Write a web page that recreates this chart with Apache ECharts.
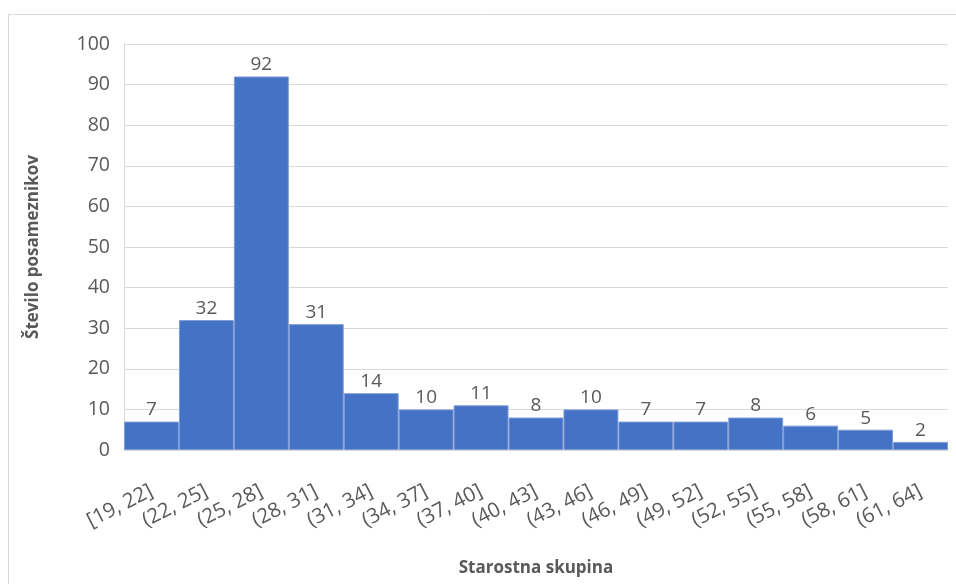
<!DOCTYPE html>
<html>
<head>
<meta charset="utf-8">
<script src="https://cdn.jsdelivr.net/npm/echarts@6/dist/echarts.min.js"></script>
<style>
  html, body { margin: 0; padding: 0; background: #fff; }
  #chart { width: 956px; height: 584px; }
</style>
</head>
<body>
<div id="chart"></div>
<script>
// age groups and counts
var categories = ["[19, 22]", "(22, 25]", "(25, 28]", "(28, 31]", "(31, 34]", "(34, 37]", "(37, 40]",
    "(40, 43]", "(43, 46]", "(46, 49]", "(49, 52]", "(52, 55]", "(55, 58]", "(58, 61]", "(61, 64]"];
var counts = [7, 32, 92, 31, 14, 10, 11, 8, 10, 7, 7, 8, 6, 5, 2];
var yTicks = { min: 0, max: 100, interval: 10 };

var font = "'Open Sans', 'Noto Sans', sans-serif";
var grey = "#595959";

var myChart = echarts.init(document.getElementById("chart"));
var option = {
    animation: false,
    textStyle: { fontFamily: font },
    grid: { left: 124, right: 8, top: 44, bottom: 134 },
    graphic: [{
        type: 'rect',
        shape: { x: 8.5, y: 14.5, width: 1000, height: 700 },
        style: { fill: 'none', stroke: '#d9d9d9', lineWidth: 1 },
        z: -1
    }],
    xAxis: {
        type: 'category',
        data: categories,
        name: 'Starostna skupina',
        nameLocation: 'middle',
        nameGap: 110,
        nameTextStyle: { fontSize: 17, fontWeight: 'bold', color: grey, fontFamily: font },
        axisLine: { lineStyle: { color: '#d9d9d9' } },
        axisTick: { show: false },
        axisLabel: { interval: 0, rotate: 27, fontSize: 20.5, color: grey, margin: 40 }
    },
    yAxis: {
        type: 'value',
        min: yTicks.min, max: yTicks.max, interval: yTicks.interval,
        name: 'Število posameznikov',
        nameLocation: 'middle',
        nameGap: 82,
        nameTextStyle: { fontSize: 17, fontWeight: 'bold', color: grey, fontFamily: font },
        axisLine: { show: true, lineStyle: { color: '#d9d9d9' } },
        axisLabel: { fontSize: 19.5, color: grey, margin: 14 },
        splitLine: { lineStyle: { color: '#d9d9d9' } }
    },
    series: [{
        type: 'bar',
        data: counts,
        barWidth: '100%',
        itemStyle: { color: '#4472c4', borderColor: '#7f9cd6', borderWidth: 1 },
        label: { show: true, position: 'top', fontSize: 19, color: grey, distance: 2 }
    }]
};
myChart.setOption(option);
</script>
</body>
</html>
